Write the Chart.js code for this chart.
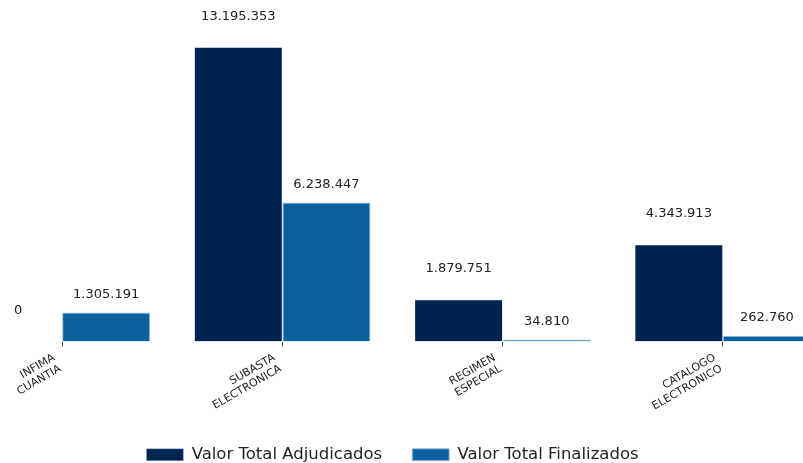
<!DOCTYPE html>
<html>
<head>
<meta charset="utf-8">
<script src="https://cdn.jsdelivr.net/npm/chart.js@4"></script>
<style>
  html, body { margin: 0; padding: 0; background: #fff; overflow: hidden; }
  #wrap { position: absolute; left: -48px; top: 0; width: 881px; height: 473px; }
</style>
</head>
<body>
<div id="wrap"><canvas id="chart"></canvas></div>
<script>
// data
const categorias = [
  ['INFIMA', 'CUANTIA'],
  ['SUBASTA', 'ELECTRONICA'],
  ['REGIMEN', 'ESPECIAL'],
  ['CATALOGO', 'ELECTRONICO']
];
const adjudicados = [0, 13195353, 1879751, 4343913];
const finalizados = [1305191, 6238447, 34810, 262760];
const series = ['Valor Total Adjudicados', 'Valor Total Finalizados'];

const FONT = 'DejaVu Sans';
const fmt = v => String(v).replace(/\B(?=(\d{3})+(?!\d))/g, '.');

// value labels above bars
const valueLabels = {
  id: 'valueLabels',
  afterDatasetsDraw(chart) {
    const ctx = chart.ctx;
    ctx.save();
    ctx.font = '13px "' + FONT + '"';
    ctx.fillStyle = '#222';
    ctx.textAlign = 'center';
    ctx.textBaseline = 'middle';
    chart.data.datasets.forEach((ds, i) => {
      const off = i === 0 ? 31 : 18;
      chart.getDatasetMeta(i).data.forEach((bar, j) => {
        ctx.fillText(fmt(ds.data[j]), bar.x, bar.y - off);
      });
    });
    ctx.restore();
  }
};

new Chart(document.getElementById('chart'), {
  type: 'bar',
  data: {
    labels: categorias,
    datasets: [
      {
        label: series[0],
        data: adjudicados,
        backgroundColor: '#002452',
        borderColor: 'rgba(170,200,230,0.7)',
        borderWidth: 0.6
      },
      {
        label: series[1],
        data: finalizados,
        backgroundColor: '#0b61a0',
        borderColor: '#9fc1e0',
        borderWidth: 1,
        minBarLength: 2
      }
    ]
  },
  options: {
    responsive: true,
    maintainAspectRatio: false,
    animation: false,
    layout: { padding: { top: 7, left: 0, right: 0, bottom: 0 } },
    datasets: { bar: { categoryPercentage: 0.8, barPercentage: 1 } },
    scales: {
      x: {
        border: { display: false },
        grid: { display: true, offset: false, drawOnChartArea: false, drawTicks: true, tickLength: 5, color: '#444', lineWidth: 1 },
        ticks: {
          maxRotation: 30, minRotation: 30,
          color: '#222',
          padding: 5,
          labelOffset: -8,
          font: { family: FONT, size: 11, lineHeight: 1.15 }
        },
        afterFit(scale) { scale.height = 75; }
      },
      y: {
        display: false,
        min: 0,
        max: 15000000
      }
    },
    plugins: {
      tooltip: { enabled: false },
      legend: {
        position: 'bottom',
        labels: {
          boxWidth: 37,
          boxHeight: 12,
          padding: 30,
          color: '#222',
          font: { family: FONT, size: 16.5 }
        }
      }
    }
  },
  plugins: [valueLabels]
});
</script>
</body>
</html>
